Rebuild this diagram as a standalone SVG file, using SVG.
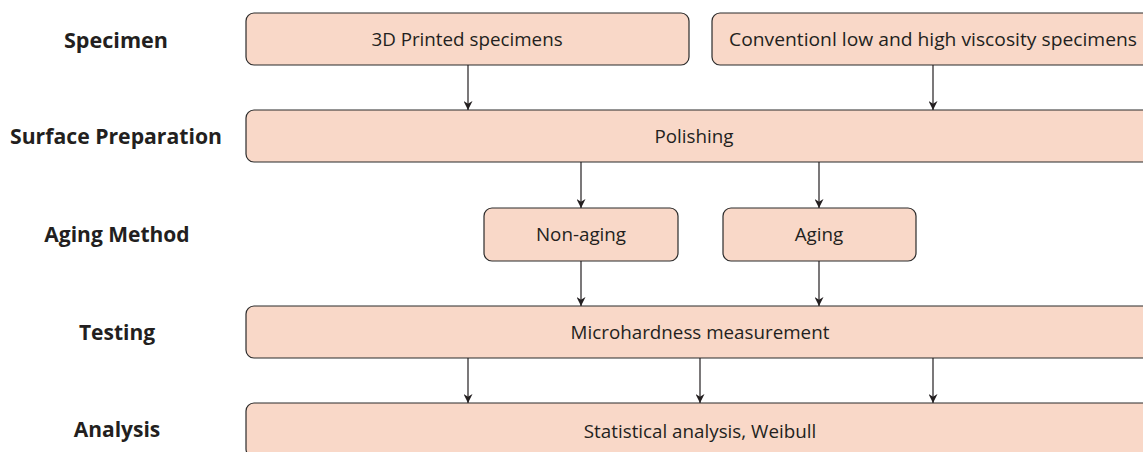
<svg xmlns="http://www.w3.org/2000/svg" width="1143" height="452" viewBox="0 0 1143 452">
<style>
.box{fill:#f9d8c8;stroke:#2b2b2b;stroke-width:1.2}
.t{font-family:"Open Sans","Liberation Sans",sans-serif;font-size:18.8px;fill:#231f20;text-anchor:middle}
.lbl{font-family:"Open Sans","Liberation Sans",sans-serif;font-size:21px;font-weight:bold;fill:#231f20;text-anchor:middle}
.c{stroke:#231f20;stroke-width:1.2;fill:none;marker-end:url(#ah)}
</style>
<defs>
<marker id="ah" viewBox="0 0 10 10" refX="10" refY="5" markerWidth="9" markerHeight="9" markerUnits="userSpaceOnUse" orient="auto">
<path d="M0,0 L10,5 L0,10 L3,5 Z" fill="#231f20"/>
</marker>
</defs>
<g id="labels">
<text class="lbl" x="116" y="48" textLength="104" lengthAdjust="spacingAndGlyphs">Specimen</text>
<text class="lbl" x="116" y="144" textLength="212" lengthAdjust="spacingAndGlyphs">Surface Preparation</text>
<text class="lbl" x="117" y="242">Aging Method</text>
<text class="lbl" x="117" y="340">Testing</text>
<text class="lbl" x="117" y="437">Analysis</text>
</g>
<g id="n1"><rect class="box" x="246" y="13" width="443" height="52" rx="8"/><text class="t" x="467" y="46">3D Printed specimens</text></g>
<g id="n2"><rect class="box" x="712" y="13" width="442" height="52" rx="8"/><text class="t" x="933" y="46" textLength="408" lengthAdjust="spacingAndGlyphs">Conventionl low and high viscosity specimens</text></g>
<g id="n3"><rect class="box" x="246" y="110" width="908" height="52" rx="8"/><text class="t" x="694" y="143">Polishing</text></g>
<g id="n4"><rect class="box" x="484" y="208" width="194" height="53" rx="8"/><text class="t" x="581" y="241">Non-aging</text></g>
<g id="n5"><rect class="box" x="723" y="208" width="193" height="53" rx="8"/><text class="t" x="819" y="241">Aging</text></g>
<g id="n6"><rect class="box" x="246" y="306" width="908" height="52" rx="8"/><text class="t" x="700" y="339">Microhardness measurement</text></g>
<g id="n7"><rect class="box" x="246" y="403" width="908" height="54" rx="8"/><text class="t" x="700" y="438">Statistical analysis, Weibull</text></g>
<g id="connectors">
<line class="c" x1="468" y1="65" x2="468" y2="110"/>
<line class="c" x1="933" y1="65" x2="933" y2="110"/>
<line class="c" x1="581" y1="162" x2="581" y2="208"/>
<line class="c" x1="819" y1="162" x2="819" y2="208"/>
<line class="c" x1="581" y1="261" x2="581" y2="306"/>
<line class="c" x1="819" y1="261" x2="819" y2="306"/>
<line class="c" x1="468" y1="358" x2="468" y2="403"/>
<line class="c" x1="700" y1="358" x2="700" y2="403"/>
<line class="c" x1="933" y1="358" x2="933" y2="403"/>
</g>
</svg>
